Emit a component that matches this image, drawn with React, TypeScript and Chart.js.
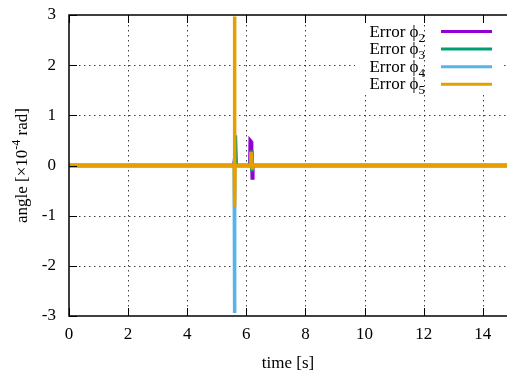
import React, { useEffect, useRef } from "react";
import { Chart, registerables } from "chart.js";

Chart.register(...registerables);

// Data (time in s, angle error in 1e-4 rad)
const phi2Time = [0, 5.58, 5.6, 5.62, 6.12, 6.13, 6.16, 6.17, 6.19, 6.2, 6.22, 14.82];
const phi2Vals = [0, 0, 0.1, 0, 0, 0.5, 0.48, 0.35, 0.3, -0.25, 0, 0];
const phi3Time = [0, 5.6, 5.63, 5.66, 6.13, 6.16, 6.19, 6.22, 14.82];
const phi3Vals = [0, 0, 0.6, 0, 0, 0.3, -0.12, 0, 0];
const phi4Time = [0, 5.59, 5.6, 5.61, 14.82];
const phi4Vals = [0, 0, -2.94, 0, 0];
const phi5Time = [0, 5.59, 5.6, 5.61, 5.62, 6.15, 6.16, 6.19, 6.2, 6.21, 14.82];
const phi5Vals = [0, 0, 2.97, -0.82, 0, 0, 0.27, 0.27, -0.05, 0, 0];

const seriesSubs = ["2", "3", "4", "5"];
const seriesColors = ["#9400D3", "#009E73", "#56B4E9", "#E69F00"];
const xTicks = [0, 2, 4, 6, 8, 10, 12, 14];
const yTicks = [-3, -2, -1, 0, 1, 2, 3];

const FONT = "'Liberation Serif', 'Times New Roman', serif";

function pts(t: number[], v: number[]) {
  return t.map((x, i) => ({ x, y: v[i] }));
}

const decorPlugin = {
  id: "decor",
  beforeDatasetsDraw(chart: any) {
    const { ctx, chartArea: a, scales } = chart;
    const xs = scales.x, ys = scales.y;
    ctx.save();
    ctx.strokeStyle = "rgba(0,0,0,0.75)";
    ctx.lineWidth = 1;
    ctx.setLineDash([1.5, 3.5]);
    xTicks.forEach((t) => {
      if (t === 0) return;
      const px = Math.round(xs.getPixelForValue(t)) + 0.5;
      ctx.beginPath();
      ctx.moveTo(px, a.top);
      ctx.lineTo(px, a.bottom);
      ctx.stroke();
    });
    yTicks.forEach((t) => {
      if (t === -3 || t === 3) return;
      const py = Math.round(ys.getPixelForValue(t)) + 0.5;
      ctx.beginPath();
      ctx.moveTo(a.left, py);
      ctx.lineTo(a.right, py);
      ctx.stroke();
    });
    ctx.restore();
  },
  afterDatasetsDraw(chart: any) {
    const { ctx, chartArea: a, scales } = chart;
    const xs = scales.x, ys = scales.y;
    ctx.save();
    ctx.setLineDash([]);

    // Legend background (opaque key)
    ctx.fillStyle = "#fff";
    ctx.fillRect(355, 23, 146, 70);
    // grid line at x=12 passes through the key
    ctx.strokeStyle = "rgba(0,0,0,0.75)";
    ctx.lineWidth = 1;
    ctx.setLineDash([1.5, 3.5]);
    const g12 = Math.round(xs.getPixelForValue(12)) + 0.5;
    ctx.beginPath();
    ctx.moveTo(g12, a.top);
    ctx.lineTo(g12, 93);
    ctx.stroke();
    ctx.setLineDash([]);

    ctx.strokeStyle = "#000";
    ctx.lineWidth = 1;
    const tl = 8;
    xTicks.forEach((t) => {
      const px = Math.round(xs.getPixelForValue(t)) + 0.5;
      ctx.beginPath();
      ctx.moveTo(px, a.bottom);
      ctx.lineTo(px, a.bottom - tl);
      ctx.moveTo(px, a.top);
      ctx.lineTo(px, a.top + tl);
      ctx.stroke();
    });
    yTicks.forEach((t) => {
      const py = Math.round(ys.getPixelForValue(t)) + 0.5;
      ctx.beginPath();
      ctx.moveTo(a.left, py);
      ctx.lineTo(a.left + tl, py);
      ctx.stroke();
    });
    ctx.lineWidth = 1.5;
    ctx.strokeRect(a.left, a.top, a.right - a.left + 5, a.bottom - a.top);

    // Legend
    const rowY = [31.5, 49.1, 66.7, 84.3];
    const textRight = 425;
    seriesSubs.forEach((s, i) => {
      const y = rowY[i];
      ctx.fillStyle = "#000";
      ctx.textBaseline = "alphabetic";
      ctx.textAlign = "left";
      ctx.font = `17px ${FONT}`;
      const main = "Error \u03D5";
      const wMain = ctx.measureText(main).width;
      ctx.font = `13px ${FONT}`;
      const wSub = ctx.measureText(s).width;
      const x0 = textRight - wMain - wSub;
      ctx.font = `17px ${FONT}`;
      ctx.fillText(main, x0, y + 5);
      ctx.font = `13px ${FONT}`;
      ctx.fillText(s, x0 + wMain, y + 10);
      ctx.strokeStyle = seriesColors[i];
      ctx.lineWidth = 3;
      ctx.beginPath();
      ctx.moveTo(441, y);
      ctx.lineTo(492, y);
      ctx.stroke();
    });

    // Y axis title with superscript
    ctx.save();
    ctx.translate(23, (a.top + a.bottom) / 2);
    ctx.rotate(-Math.PI / 2);
    ctx.fillStyle = "#000";
    ctx.textBaseline = "middle";
    ctx.textAlign = "left";
    const p1 = "angle [\u00D710";
    const p2 = "-4";
    const p3 = " rad]";
    ctx.font = `17px ${FONT}`;
    const w1 = ctx.measureText(p1).width;
    const w3 = ctx.measureText(p3).width;
    ctx.font = `12px ${FONT}`;
    const w2 = ctx.measureText(p2).width;
    const start = -(w1 + w2 + w3) / 2;
    ctx.font = `17px ${FONT}`;
    ctx.fillText(p1, start, 0);
    ctx.font = `12px ${FONT}`;
    ctx.fillText(p2, start + w1, -6);
    ctx.font = `17px ${FONT}`;
    ctx.fillText(p3, start + w1 + w2, 0);
    ctx.restore();

    ctx.restore();
  },
};

export default function App() {
  const ref = useRef<HTMLCanvasElement>(null);
  useEffect(() => {
    if (!ref.current) return;
    const series = [
      pts(phi2Time, phi2Vals),
      pts(phi3Time, phi3Vals),
      pts(phi4Time, phi4Vals),
      pts(phi5Time, phi5Vals),
    ];
    const chart = new Chart(ref.current, {
      type: "scatter",
      data: {
        datasets: series.map((d, i) => ({
          label: "Error phi" + seriesSubs[i],
          data: d,
          showLine: true,
          borderColor: seriesColors[i],
          backgroundColor: seriesColors[i],
          borderWidth: 3.5,
          pointRadius: 0,
          tension: 0,
          order: 3 - i,
        })),
      },
      options: {
        responsive: false,
        animation: false,
        devicePixelRatio: 1,
        layout: { padding: { top: 15, left: 0, right: 0, bottom: 0 } },
        plugins: { legend: { display: false }, tooltip: { enabled: false } },
        scales: {
          x: {
            type: "linear",
            min: 0,
            max: 14.82,
            grid: { display: false, drawTicks: false },
            border: { display: false },
            ticks: {
              stepSize: 2,
              includeBounds: false,
              padding: 8,
              color: "#000",
              font: { family: FONT, size: 17 },
              maxRotation: 0,
            },
            title: {
              display: true,
              text: "time [s]",
              color: "#000",
              font: { family: FONT, size: 17 },
              padding: { top: 4, bottom: 0 },
            },
            afterFit: (s: any) => {
              s.height = 58;
              s.paddingLeft = 0;
              s.paddingRight = 0;
            },
          },
          y: {
            type: "linear",
            min: -3,
            max: 3,
            grid: { display: false, drawTicks: false },
            border: { display: false },
            ticks: {
              stepSize: 1,
              padding: 13,
              color: "#000",
              font: { family: FONT, size: 17 },
            },
            afterFit: (s: any) => {
              s.width = 69;
              s.paddingTop = 0;
              s.paddingBottom = 0;
            },
          },
        },
      },
      plugins: [decorPlugin],
    } as any);
    return () => chart.destroy();
  }, []);
  return (
    <div style={{ position: "absolute", left: 0, top: 0, width: 507, height: 374, background: "#fff" }}>
      <canvas ref={ref} width={507} height={374} />
    </div>
  );
}
